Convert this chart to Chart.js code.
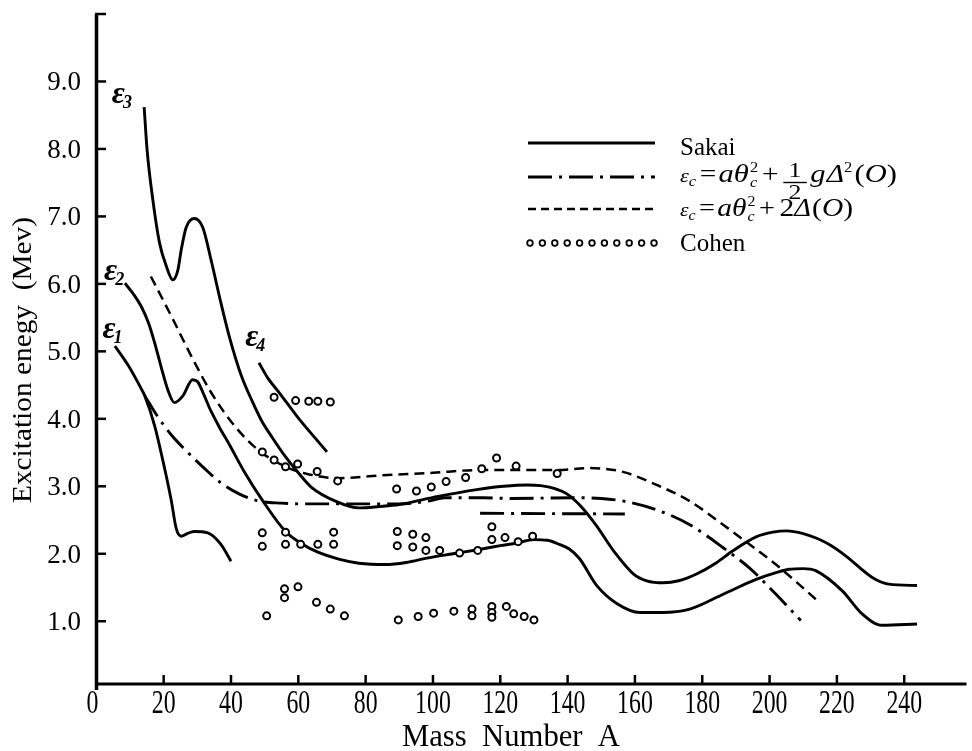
<!DOCTYPE html>
<html>
<head>
<meta charset="utf-8">
<title>Excitation energy vs mass number</title>
<script src="https://cdn.jsdelivr.net/npm/chart.js"></script>
<style>
  html, body { margin: 0; padding: 0; background: #fff; }
  canvas { display: block; }
</style>
</head>
<body>
<canvas id="chart" width="972" height="751"></canvas>
<script>
// values, [mass number A, energy MeV]
var eps1 = [[5.5,5.08],[9.5,4.79],[13.4,4.44],[14.4,4.34],[17.3,3.9],[20.3,3.26],[22.3,2.78],[23.7,2.38],[25.2,2.26],[27,2.3],[29.1,2.33],[33.1,2.31],[37,2.14],[40,1.89]];
var eps2 = [[8.5,6.01],[11,5.85],[13.5,5.65],[15.5,5.42],[17.3,5.13],[19.3,4.76],[21.3,4.42],[23.2,4.24],[25.7,4.34],[28.6,4.58],[30.1,4.55],[32,4.35],[34,4.12],[36.5,3.88],[39.5,3.62],[43.9,3.22],[49.5,2.78],[56.2,2.33],[61,2.15],[66,2.02],[72,1.92],[78,1.86],[86,1.84],[92,1.87],[98.6,1.94],[106,2.0],[113.3,2.06],[120,2.12],[125,2.16],[130,2.21],[134,2.2],[137.5,2.14],[140.5,2.07],[143.5,1.93],[148.8,1.52],[154.7,1.26],[161.5,1.13],[168,1.13],[176.3,1.18],[186.2,1.4],[196,1.62],[201.9,1.72],[205.8,1.77],[210,1.78],[213.7,1.75],[221.6,1.45],[227.5,1.11],[233.4,0.94],[243.8,0.96]];
var eps3 = [[14.2,8.62],[15.1,7.97],[16.8,7.24],[18.8,6.6],[20.8,6.26],[22.7,6.06],[24.2,6.2],[25.2,6.5],[26.7,6.84],[29.1,6.97],[31.6,6.84],[34.1,6.35],[37,5.72],[39.5,5.22],[43,4.65],[46.4,4.25],[49,3.98],[52.3,3.72],[56,3.45],[60,3.2],[64,2.98],[71,2.78],[78,2.68],[84,2.7],[90,2.73],[101.5,2.85],[113,2.95],[121,3.0],[128,3.02],[132,3.01],[136,2.97],[140,2.88],[144,2.7],[148.5,2.42],[153.7,2.04],[159.6,1.7],[163.5,1.6],[168.5,1.57],[173,1.6],[178.3,1.7],[184,1.86],[189,2.04],[196,2.25],[201,2.32],[205,2.34],[210,2.3],[214,2.23],[218,2.13],[222.6,1.97],[230.5,1.65],[235.4,1.55],[243.8,1.53]];
var eps4 = [[48.3,4.83],[51,4.6],[54.3,4.39],[60.2,4.0],[65.1,3.71],[68.5,3.51]];
var halfGapModel = [[14.4,4.34],[18,4.05],[22.3,3.76],[26.2,3.55],[33.1,3.22],[37,3.05],[42.7,2.88],[48.5,2.78],[55,2.75],[60.2,2.74],[75,2.74],[89.7,2.74],[98.6,2.78],[103.5,2.83],[115,2.83],[123.2,2.82],[142.9,2.83],[150,2.82],[156.7,2.78],[166.5,2.65],[176.3,2.43],[186.2,2.09],[194,1.79],[201.9,1.4],[209.3,1.01]];
var halfGapShort = [[114,2.6],[157,2.59]];
var twoGapModel = [[16.2,6.11],[22.3,5.52],[28.2,4.93],[34.1,4.39],[41,3.9],[47.8,3.55],[56.2,3.29],[62.1,3.19],[72,3.12],[84,3.16],[100,3.2],[113,3.24],[125,3.24],[137,3.24],[146,3.27],[151,3.26],[156.7,3.21],[166.5,3.02],[176.3,2.78],[186.2,2.43],[194,2.14],[201.9,1.84],[208,1.58],[214.3,1.3]];
var cohen = [
  [52.8,4.32],[59.2,4.27],[63.1,4.26],[65.8,4.26],[69.5,4.25],
  [49.3,3.51],[52.8,3.39],[56.2,3.29],[59.8,3.33],[65.6,3.22],[71.7,3.08],
  [49.3,2.31],[49.3,2.11],[56.2,2.32],[56.2,2.14],[60.7,2.14],[65.8,2.14],[70.5,2.32],[70.5,2.14],
  [55.9,1.48],[55.9,1.35],[59.9,1.51],[65.4,1.28],[69.5,1.18],[73.7,1.08],[50.6,1.08],
  [89.2,2.96],[95.1,2.93],[99.5,2.99],[103.9,3.07],[109.7,3.13],[114.5,3.26],[118.9,3.42],[124.7,3.3],[136.9,3.19],
  [89.4,2.33],[89.4,2.12],[94,2.29],[94,2.1],[97.9,2.24],[97.9,2.05],[102,2.05],[107.9,2.01],[113.3,2.05],[117.5,2.4],[117.5,2.21],[121.4,2.24],[125.3,2.18],[129.6,2.26],
  [89.7,1.02],[95.6,1.07],[100.2,1.12],[106.2,1.15],[111.6,1.18],[111.6,1.08],[117.5,1.22],[117.5,1.13],[117.5,1.06],[121.8,1.22],[124,1.11],[127.1,1.07],[130,1.02]
];

var xTicks = [0,20,40,60,80,100,120,140,160,180,200,220,240];
var yTicks = [1,2,3,4,5,6,7,8,9,10];
var yTickLabels = ['1.0','2.0','3.0','4.0','5.0','6.0','7.0','8.0','9.0',''];

// curve labels: subscript, mass, energy where the label sits
var curveLabels = [['3',4.6,8.68],['2',2.3,6.06],['1',1.8,5.2],['4',44.2,5.08]];

var FONT = '"Liberation Serif", "Times New Roman", serif';

function pts(arr) {
    return arr.map(function(p) { return {x: p[0], y: p[1]}; });
}

function curve(arr, dash, width) {
    return {
        data: pts(arr),
        borderColor: '#000',
        borderWidth: width || 2.9,
        borderDash: dash || [],
        pointRadius: 0,
        fill: false,
        cubicInterpolationMode: 'monotone'
    };
}

var DASHDOT = [24, 7, 3, 7];
var DASHED = [10, 6];

// draws (or only measures) the formula text of the legend
function drawFormula(ctx, x, base, withHalf, draw) {
    var cx = x;
    function put(t, size, opts) {
        opts = opts || {};
        ctx.font = (opts.italic ? 'italic ' : '') + size + 'px ' + FONT;
        if (draw) ctx.fillText(t, cx, base + (opts.dy || 0));
        var w = ctx.measureText(t).width;
        if (!opts.stay) cx += w + (opts.gap || 0);
    }
    put('\u03b5', 19, {italic: true});
    put('c', 14, {italic: true, dy: 4, gap: 3});
    put('=', 25, {gap: 2});
    put('a', 26, {italic: true});
    put('\u03b8', 26, {italic: true, gap: 1});
    put('2', 14, {dy: -10, stay: true});
    put('c', 14, {italic: true, dy: 5, gap: 4});
    put('+', 25, {gap: 4});
    if (withHalf) {
        var w = 20;
        if (draw) {
            ctx.font = '22px ' + FONT;
            ctx.textAlign = 'center';
            ctx.fillText('1', cx + w / 2, base - 5);
            ctx.fillText('2', cx + w / 2, base + 17);
            ctx.textAlign = 'left';
            ctx.lineWidth = 1.4;
            ctx.setLineDash([]);
            ctx.beginPath();
            ctx.moveTo(cx, base + 0.5);
            ctx.lineTo(cx + w, base + 0.5);
            ctx.stroke();
        }
        cx += w + 3;
        put('g', 26, {italic: true, gap: 1});
        put('\u0394', 25, {italic: true});
        put('2', 14, {dy: -10, gap: 2});
    } else {
        put('2', 26);
        put('\u0394', 25, {italic: true, gap: 1});
    }
    put('(', 26);
    put('O', 26, {italic: true});
    put(')', 26);
    return cx - x;
}

function drawFormulaFit(ctx, x, base, withHalf, target) {
    var w = drawFormula(ctx, 0, 0, withHalf, false);
    ctx.save();
    ctx.translate(x, base);
    ctx.scale(target / w, 1);
    drawFormula(ctx, 0, 0, withHalf, true);
    ctx.restore();
}

var paperPlugin = {
    id: 'paperPlugin',
    afterDatasetsDraw: function(chart) {
        var ctx = chart.ctx;
        var xs = chart.scales.x, ys = chart.scales.y;
        var area = chart.chartArea;
        ctx.save();
        ctx.strokeStyle = '#000';
        ctx.fillStyle = '#000';
        ctx.setLineDash([]);

        // axes
        ctx.lineWidth = 3.5;
        ctx.beginPath();
        ctx.moveTo(area.left + 1.5, area.top);
        ctx.lineTo(area.left + 1.5, area.bottom + 6);
        ctx.stroke();
        ctx.lineWidth = 3;
        ctx.beginPath();
        ctx.moveTo(area.left, area.bottom);
        ctx.lineTo(area.right, area.bottom);
        ctx.stroke();

        // inward ticks
        ctx.lineWidth = 2.5;
        yTicks.forEach(function(v) {
            var py = ys.getPixelForValue(v);
            ctx.beginPath();
            ctx.moveTo(area.left, py);
            ctx.lineTo(area.left + 11, py);
            ctx.stroke();
        });
        xTicks.forEach(function(v) {
            if (v === 0) return;
            var px = xs.getPixelForValue(v);
            ctx.beginPath();
            ctx.moveTo(px, area.bottom);
            ctx.lineTo(px, area.bottom - 9);
            ctx.stroke();
        });

        // tick labels
        ctx.font = '27px ' + FONT;
        ctx.textAlign = 'right';
        ctx.textBaseline = 'alphabetic';
        yTicks.forEach(function(v, i) {
            ctx.fillText(yTickLabels[i], area.left - 14, ys.getPixelForValue(v) + 9);
        });
        ctx.font = '34px ' + FONT;
        ctx.textAlign = 'center';
        xTicks.forEach(function(v) {
            ctx.save();
            ctx.translate(xs.getPixelForValue(v) - (v === 0 ? 4 : 0), 713);
            ctx.scale(0.7, 1);
            ctx.fillText(String(v), 0, 0);
            ctx.restore();
        });

        // axis titles
        ctx.font = '32px ' + FONT;
        var xt = 'Mass  Number  A';
        var sx = 218 / ctx.measureText(xt).width;
        ctx.save();
        ctx.translate(511, 746);
        ctx.scale(sx, 1);
        ctx.fillText(xt, 0, 0);
        ctx.restore();

        ctx.font = '28px ' + FONT;
        var yt = 'Excitation enegy  (Mev)';
        var sy = 286 / ctx.measureText(yt).width;
        ctx.save();
        ctx.translate(31, 360);
        ctx.rotate(-Math.PI / 2);
        ctx.scale(sy, 1);
        ctx.fillText(yt, 0, 0);
        ctx.restore();

        // curve labels
        ctx.textAlign = 'left';
        curveLabels.forEach(function(l) {
            var px = xs.getPixelForValue(l[1]);
            var py = ys.getPixelForValue(l[2]);
            ctx.font = 'italic bold 32px ' + FONT;
            ctx.fillText('\u03b5', px, py);
            var w = ctx.measureText('\u03b5').width;
            ctx.font = 'italic bold 18px ' + FONT;
            ctx.fillText(l[0], px + w - 2, py + 5);
        });

        // legend
        var lx0 = 528, lx1 = 655, tx = 680;
        ctx.lineWidth = 2.8;
        ctx.beginPath(); ctx.moveTo(lx0, 143); ctx.lineTo(lx1, 143); ctx.stroke();
        ctx.lineWidth = 3.2;
        ctx.setLineDash(DASHDOT);
        ctx.beginPath(); ctx.moveTo(lx0, 177); ctx.lineTo(lx1, 177); ctx.stroke();
        ctx.lineWidth = 2.5;
        ctx.setLineDash([8, 5]);
        ctx.beginPath(); ctx.moveTo(lx0, 209); ctx.lineTo(lx1, 209); ctx.stroke();
        ctx.setLineDash([]);
        ctx.lineWidth = 1.8;
        for (var i = 0; i < 11; i++) {
            ctx.beginPath();
            ctx.arc(lx0 + 2 + i * 12.4, 243, 2.8, 0, Math.PI * 2);
            ctx.stroke();
        }
        ctx.font = '25px ' + FONT;
        ctx.fillText('Sakai', tx, 155);
        ctx.fillText('Cohen', tx, 251);
        drawFormulaFit(ctx, tx, 182, true, 217);
        drawFormulaFit(ctx, tx, 216, false, 173);

        ctx.restore();
    }
};

var ctx = document.getElementById('chart').getContext('2d');
new Chart(ctx, {
    type: 'line',
    data: {
        datasets: [
            {
                label: 'Cohen',
                data: pts(cohen),
                showLine: false,
                pointRadius: 3.5,
                pointHoverRadius: 3.5,
                pointBorderWidth: 2,
                pointBackgroundColor: '#fff',
                pointBorderColor: '#000'
            },
            Object.assign({label: 'Sakai e1'}, curve(eps1)),
            Object.assign({label: 'Sakai e2'}, curve(eps2)),
            Object.assign({label: 'Sakai e3'}, curve(eps3)),
            Object.assign({label: 'Sakai e4'}, curve(eps4)),
            Object.assign({label: 'half g'}, curve(halfGapModel, DASHDOT, 2.9)),
            Object.assign({label: 'half g short'}, curve(halfGapShort, DASHDOT, 2.9)),
            Object.assign({label: '2 delta'}, curve(twoGapModel, DASHED, 2.5))
        ]
    },
    options: {
        responsive: false,
        animation: false,
        layout: { padding: { left: 95, right: 0, top: 14, bottom: 67 } },
        plugins: { legend: { display: false }, tooltip: { enabled: false } },
        scales: {
            x: { type: 'linear', min: -0.4, max: 258.5, display: false },
            y: { type: 'linear', min: 0.07, max: 10, display: false }
        }
    },
    plugins: [paperPlugin]
});
</script>
</body>
</html>
